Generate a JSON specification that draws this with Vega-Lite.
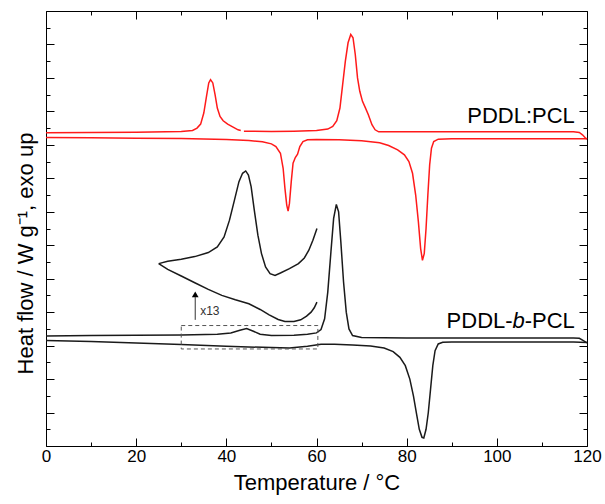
{
  "$schema": "https://vega.github.io/schema/vega-lite/v6.json",
  "autosize": {"type": "none"},
  "padding": {"left": 46, "top": 11, "right": 18, "bottom": 58},
  "width": 541,
  "height": 435,
  "background": "white",
  "config": {
    "view": {"stroke": "#000", "strokeWidth": 1},
    "axis": {"domain": false, "grid": false, "tickColor": "#000", "tickWidth": 1, "labelFont": "Liberation Sans", "titleFont": "Liberation Sans", "labelColor": "#000", "titleColor": "#000", "titleFontWeight": "normal"}
  },
  "datasets": {
    "curves": [
      {"s": "rc1", "T": 0, "v": 9.36}, {"s": "rc1", "T": 10, "v": 9.37}, {"s": "rc1", "T": 20, "v": 9.38}, {"s": "rc1", "T": 30, "v": 9.4}, {"s": "rc1", "T": 32.5, "v": 9.43}, {"s": "rc1", "T": 33.5, "v": 9.5}, {"s": "rc1", "T": 34.3, "v": 9.62}, {"s": "rc1", "T": 35.0, "v": 9.95}, {"s": "rc1", "T": 35.6, "v": 10.45}, {"s": "rc1", "T": 36.1, "v": 10.85}, {"s": "rc1", "T": 36.5, "v": 10.95}, {"s": "rc1", "T": 37.0, "v": 10.85}, {"s": "rc1", "T": 37.5, "v": 10.5}, {"s": "rc1", "T": 38.0, "v": 10.1}, {"s": "rc1", "T": 38.6, "v": 9.85}, {"s": "rc1", "T": 39.3, "v": 9.72}, {"s": "rc1", "T": 40.3, "v": 9.62}, {"s": "rc1", "T": 41.5, "v": 9.53}, {"s": "rc1", "T": 42.6, "v": 9.45}, {"s": "rc1", "T": 43.2, "v": 9.43},
      {"s": "rc2", "T": 43.9, "v": 9.41}, {"s": "rc2", "T": 50, "v": 9.4}, {"s": "rc2", "T": 55, "v": 9.41}, {"s": "rc2", "T": 60, "v": 9.43}, {"s": "rc2", "T": 62.5, "v": 9.47}, {"s": "rc2", "T": 63.6, "v": 9.55}, {"s": "rc2", "T": 64.5, "v": 9.72}, {"s": "rc2", "T": 65.2, "v": 10.1}, {"s": "rc2", "T": 65.8, "v": 10.8}, {"s": "rc2", "T": 66.4, "v": 11.5}, {"s": "rc2", "T": 67.0, "v": 12.05}, {"s": "rc2", "T": 67.6, "v": 12.3}, {"s": "rc2", "T": 68.1, "v": 12.2}, {"s": "rc2", "T": 68.6, "v": 11.7}, {"s": "rc2", "T": 69.1, "v": 11.0}, {"s": "rc2", "T": 69.6, "v": 10.6}, {"s": "rc2", "T": 70.2, "v": 10.3}, {"s": "rc2", "T": 70.8, "v": 10.12}, {"s": "rc2", "T": 71.5, "v": 9.9}, {"s": "rc2", "T": 72.3, "v": 9.6}, {"s": "rc2", "T": 73.0, "v": 9.45}, {"s": "rc2", "T": 73.8, "v": 9.39}, {"s": "rc2", "T": 80, "v": 9.39}, {"s": "rc2", "T": 100, "v": 9.39}, {"s": "rc2", "T": 117, "v": 9.39}, {"s": "rc2", "T": 118.3, "v": 9.37}, {"s": "rc2", "T": 119.0, "v": 9.3}, {"s": "rc2", "T": 119.7, "v": 9.2}, {"s": "rc2", "T": 120, "v": 9.17},
      {"s": "rh", "T": 0, "v": 9.22}, {"s": "rh", "T": 10, "v": 9.21}, {"s": "rh", "T": 20, "v": 9.2}, {"s": "rh", "T": 30, "v": 9.19}, {"s": "rh", "T": 40, "v": 9.16}, {"s": "rh", "T": 45, "v": 9.13}, {"s": "rh", "T": 48, "v": 9.09}, {"s": "rh", "T": 50, "v": 9.03}, {"s": "rh", "T": 51, "v": 8.95}, {"s": "rh", "T": 52, "v": 8.75}, {"s": "rh", "T": 52.6, "v": 8.3}, {"s": "rh", "T": 53.0, "v": 7.7}, {"s": "rh", "T": 53.4, "v": 7.2}, {"s": "rh", "T": 53.7, "v": 7.02}, {"s": "rh", "T": 54.0, "v": 7.25}, {"s": "rh", "T": 54.4, "v": 7.9}, {"s": "rh", "T": 54.8, "v": 8.45}, {"s": "rh", "T": 55.3, "v": 8.62}, {"s": "rh", "T": 55.8, "v": 8.72}, {"s": "rh", "T": 56.3, "v": 8.95}, {"s": "rh", "T": 57.0, "v": 9.1}, {"s": "rh", "T": 58, "v": 9.15}, {"s": "rh", "T": 60, "v": 9.16}, {"s": "rh", "T": 65, "v": 9.15}, {"s": "rh", "T": 70, "v": 9.12}, {"s": "rh", "T": 74, "v": 9.06}, {"s": "rh", "T": 76, "v": 8.98}, {"s": "rh", "T": 78, "v": 8.85}, {"s": "rh", "T": 79.5, "v": 8.7}, {"s": "rh", "T": 80.5, "v": 8.5}, {"s": "rh", "T": 81.3, "v": 8.15}, {"s": "rh", "T": 82.0, "v": 7.5}, {"s": "rh", "T": 82.6, "v": 6.7}, {"s": "rh", "T": 83.1, "v": 5.9}, {"s": "rh", "T": 83.5, "v": 5.55}, {"s": "rh", "T": 83.9, "v": 5.75}, {"s": "rh", "T": 84.3, "v": 6.5}, {"s": "rh", "T": 84.7, "v": 7.5}, {"s": "rh", "T": 85.1, "v": 8.4}, {"s": "rh", "T": 85.5, "v": 8.9}, {"s": "rh", "T": 86.0, "v": 9.1}, {"s": "rh", "T": 87.0, "v": 9.17}, {"s": "rh", "T": 90, "v": 9.18}, {"s": "rh", "T": 100, "v": 9.18}, {"s": "rh", "T": 110, "v": 9.18}, {"s": "rh", "T": 120, "v": 9.18},
      {"s": "bc", "T": 0, "v": 3.29}, {"s": "bc", "T": 10, "v": 3.3}, {"s": "bc", "T": 20, "v": 3.31}, {"s": "bc", "T": 30, "v": 3.32}, {"s": "bc", "T": 38, "v": 3.34}, {"s": "bc", "T": 41, "v": 3.38}, {"s": "bc", "T": 43, "v": 3.46}, {"s": "bc", "T": 44.5, "v": 3.51}, {"s": "bc", "T": 46, "v": 3.43}, {"s": "bc", "T": 47.5, "v": 3.34}, {"s": "bc", "T": 50, "v": 3.3}, {"s": "bc", "T": 55, "v": 3.31}, {"s": "bc", "T": 58, "v": 3.34}, {"s": "bc", "T": 60, "v": 3.38}, {"s": "bc", "T": 61, "v": 3.48}, {"s": "bc", "T": 61.8, "v": 3.8}, {"s": "bc", "T": 62.5, "v": 4.6}, {"s": "bc", "T": 63.2, "v": 5.8}, {"s": "bc", "T": 63.8, "v": 6.8}, {"s": "bc", "T": 64.4, "v": 7.22}, {"s": "bc", "T": 64.9, "v": 7.0}, {"s": "bc", "T": 65.4, "v": 6.1}, {"s": "bc", "T": 66.0, "v": 4.9}, {"s": "bc", "T": 66.6, "v": 4.0}, {"s": "bc", "T": 67.2, "v": 3.5}, {"s": "bc", "T": 68.0, "v": 3.3}, {"s": "bc", "T": 70, "v": 3.24}, {"s": "bc", "T": 80, "v": 3.23}, {"s": "bc", "T": 100, "v": 3.23}, {"s": "bc", "T": 117, "v": 3.23}, {"s": "bc", "T": 118.3, "v": 3.22}, {"s": "bc", "T": 119.2, "v": 3.15}, {"s": "bc", "T": 120, "v": 3.08},
      {"s": "bh", "T": 0, "v": 3.15}, {"s": "bh", "T": 10, "v": 3.12}, {"s": "bh", "T": 20, "v": 3.08}, {"s": "bh", "T": 30, "v": 3.03}, {"s": "bh", "T": 40, "v": 2.98}, {"s": "bh", "T": 50, "v": 2.94}, {"s": "bh", "T": 54, "v": 2.93}, {"s": "bh", "T": 58, "v": 2.98}, {"s": "bh", "T": 61, "v": 3.04}, {"s": "bh", "T": 64, "v": 3.04}, {"s": "bh", "T": 68, "v": 3.02}, {"s": "bh", "T": 72, "v": 2.99}, {"s": "bh", "T": 75, "v": 2.93}, {"s": "bh", "T": 77, "v": 2.82}, {"s": "bh", "T": 78.5, "v": 2.65}, {"s": "bh", "T": 79.7, "v": 2.4}, {"s": "bh", "T": 80.7, "v": 2.0}, {"s": "bh", "T": 81.5, "v": 1.5}, {"s": "bh", "T": 82.2, "v": 0.95}, {"s": "bh", "T": 82.8, "v": 0.5}, {"s": "bh", "T": 83.4, "v": 0.26}, {"s": "bh", "T": 83.8, "v": 0.24}, {"s": "bh", "T": 84.3, "v": 0.5}, {"s": "bh", "T": 84.8, "v": 1.0}, {"s": "bh", "T": 85.3, "v": 1.7}, {"s": "bh", "T": 85.8, "v": 2.4}, {"s": "bh", "T": 86.3, "v": 2.85}, {"s": "bh", "T": 87.0, "v": 3.05}, {"s": "bh", "T": 88, "v": 3.1}, {"s": "bh", "T": 90, "v": 3.11}, {"s": "bh", "T": 100, "v": 3.11}, {"s": "bh", "T": 110, "v": 3.11}, {"s": "bh", "T": 117, "v": 3.11}, {"s": "bh", "T": 120, "v": 3.09},
      {"s": "iu", "T": 25.0, "v": 5.45}, {"s": "iu", "T": 27, "v": 5.52}, {"s": "iu", "T": 30, "v": 5.58}, {"s": "iu", "T": 33, "v": 5.66}, {"s": "iu", "T": 36, "v": 5.78}, {"s": "iu", "T": 38, "v": 5.95}, {"s": "iu", "T": 39.5, "v": 6.25}, {"s": "iu", "T": 40.7, "v": 6.75}, {"s": "iu", "T": 41.8, "v": 7.35}, {"s": "iu", "T": 42.8, "v": 7.9}, {"s": "iu", "T": 43.6, "v": 8.15}, {"s": "iu", "T": 44.3, "v": 8.22}, {"s": "iu", "T": 44.9, "v": 8.1}, {"s": "iu", "T": 45.5, "v": 7.75}, {"s": "iu", "T": 46.2, "v": 7.05}, {"s": "iu", "T": 47.0, "v": 6.3}, {"s": "iu", "T": 47.8, "v": 5.75}, {"s": "iu", "T": 48.7, "v": 5.35}, {"s": "iu", "T": 49.7, "v": 5.15}, {"s": "iu", "T": 50.8, "v": 5.1}, {"s": "iu", "T": 52, "v": 5.17}, {"s": "iu", "T": 54, "v": 5.3}, {"s": "iu", "T": 56, "v": 5.45}, {"s": "iu", "T": 57.3, "v": 5.62}, {"s": "iu", "T": 58.3, "v": 5.85}, {"s": "iu", "T": 59.2, "v": 6.15}, {"s": "iu", "T": 60.1, "v": 6.5},
      {"s": "il", "T": 25.0, "v": 5.45}, {"s": "il", "T": 27, "v": 5.28}, {"s": "il", "T": 30, "v": 5.08}, {"s": "il", "T": 33, "v": 4.88}, {"s": "il", "T": 36, "v": 4.68}, {"s": "il", "T": 39, "v": 4.5}, {"s": "il", "T": 42, "v": 4.37}, {"s": "il", "T": 45, "v": 4.25}, {"s": "il", "T": 47.5, "v": 4.08}, {"s": "il", "T": 49.5, "v": 3.92}, {"s": "il", "T": 51.5, "v": 3.78}, {"s": "il", "T": 53, "v": 3.72}, {"s": "il", "T": 55, "v": 3.72}, {"s": "il", "T": 56.5, "v": 3.77}, {"s": "il", "T": 57.8, "v": 3.88}, {"s": "il", "T": 58.8, "v": 4.0}, {"s": "il", "T": 59.5, "v": 4.13}, {"s": "il", "T": 60.1, "v": 4.3}
    ],
    "box": [{"T1": 30, "T2": 60.3, "v1": 2.9, "v2": 3.6}],
    "arrow": [{"T": 33.1, "v1": 3.77, "v2": 4.45, "vh": 4.53}],
    "small": [{"T": 34.2, "v": 3.92, "label": "x13"}],
    "names": [
      {"T": 117.3, "v": 9.66, "label": "PDDL:PCL"},
      {"T": 117.3, "v": 3.53, "label": "-PCL"},
      {"T": 103.5, "v": 3.53, "label": "PDDL-"}
    ],
    "italic": [
      {"T": 106.2, "v": 3.53, "label": "b"}
    ]
  },
  "layer": [
    {
      "data": {"name": "curves"},
      "transform": [{"filter": "datum.s == 'rc1' || datum.s == 'rc2' || datum.s == 'rh'"}],
      "mark": {"type": "line", "color": "#ff1a1a", "strokeWidth": 1.5},
      "encoding": {
        "x": {"field": "T", "type": "quantitative", "scale": {"domain": [0, 120], "nice": false, "zero": false},
              "axis": {"orient": "bottom", "values": [0, 20, 40, 60, 80, 100, 120], "tickSize": -8, "labelFontSize": 17, "labelPadding": 10, "labelFlush": false, "title": "Temperature / °C", "titleFontSize": 22, "titlePadding": 8}},
        "y": {"field": "v", "type": "quantitative", "scale": {"domain": [0, 13], "nice": false, "zero": false},
              "axis": {"orient": "left", "values": [0,1,2,3,4,5,6,7,8,9,10,11,12,13], "tickSize": -8, "labels": false, "title": "Heat flow / W g⁻¹, exo up", "titleFontSize": 22, "titleAngle": -90, "titleX": -14, "titleY": 242, "titleBaseline": "alphabetic", "titleAlign": "center"}},
        "detail": {"field": "s"}
      }
    },
    {
      "data": {"name": "curves"},
      "transform": [{"filter": "datum.s == 'bc' || datum.s == 'bh' || datum.s == 'iu' || datum.s == 'il'"}],
      "mark": {"type": "line", "color": "#1a1a1a", "strokeWidth": 1.5},
      "encoding": {
        "x": {"field": "T", "type": "quantitative", "scale": {"domain": [0, 120], "nice": false, "zero": false},
              "axis": {"orient": "bottom", "values": [10, 30, 50, 70, 90, 110], "tickSize": -4, "labels": false, "title": null}},
        "y": {"field": "v", "type": "quantitative", "scale": {"domain": [0, 13], "nice": false, "zero": false},
              "axis": {"orient": "left", "values": [0.5,1.5,2.5,3.5,4.5,5.5,6.5,7.5,8.5,9.5,10.5,11.5,12.5], "tickSize": -4, "labels": false, "title": null}},
        "detail": {"field": "s"}
      }
    },
    {
      "data": {"name": "box"},
      "mark": {"type": "rect", "fill": null, "fillOpacity": 0, "stroke": "#555", "strokeWidth": 1, "strokeDash": [4, 3]},
      "encoding": {
        "x": {"field": "T1", "type": "quantitative", "scale": {"domain": [0, 120], "nice": false, "zero": false},
              "axis": {"orient": "top", "values": [0, 20, 40, 60, 80, 100, 120], "tickSize": -8, "labels": false, "title": null}},
        "x2": {"field": "T2"},
        "y": {"field": "v1", "type": "quantitative", "scale": {"domain": [0, 13], "nice": false, "zero": false},
              "axis": {"orient": "right", "values": [0,1,2,3,4,5,6,7,8,9,10,11,12,13], "tickSize": -8, "labels": false, "title": null}},
        "y2": {"field": "v2"}
      }
    },
    {
      "data": {"name": "arrow"},
      "mark": {"type": "rule", "color": "#333", "strokeWidth": 1},
      "encoding": {
        "x": {"field": "T", "type": "quantitative", "scale": {"domain": [0, 120], "nice": false, "zero": false},
              "axis": {"orient": "top", "values": [10, 30, 50, 70, 90, 110], "tickSize": -4, "labels": false, "title": null}},
        "y": {"field": "v1", "type": "quantitative", "scale": {"domain": [0, 13], "nice": false, "zero": false},
              "axis": {"orient": "right", "values": [0.5,1.5,2.5,3.5,4.5,5.5,6.5,7.5,8.5,9.5,10.5,11.5,12.5], "tickSize": -4, "labels": false, "title": null}},
        "y2": {"field": "v2"}
      }
    },
    {
      "data": {"name": "arrow"},
      "mark": {"type": "point", "shape": "triangle-up", "filled": true, "color": "#000", "size": 45, "opacity": 1},
      "encoding": {
        "x": {"field": "T", "type": "quantitative", "scale": {"domain": [0, 120], "nice": false, "zero": false}, "axis": null},
        "y": {"field": "vh", "type": "quantitative", "scale": {"domain": [0, 13], "nice": false, "zero": false}, "axis": null}
      }
    },
    {
      "data": {"name": "small"},
      "mark": {"type": "text", "align": "left", "baseline": "alphabetic", "font": "Liberation Sans", "fontSize": 12, "color": "#333"},
      "encoding": {
        "x": {"field": "T", "type": "quantitative", "scale": {"domain": [0, 120], "nice": false, "zero": false}, "axis": null},
        "y": {"field": "v", "type": "quantitative", "scale": {"domain": [0, 13], "nice": false, "zero": false}, "axis": null},
        "text": {"field": "label"}
      }
    },
    {
      "data": {"name": "names"},
      "mark": {"type": "text", "align": "right", "baseline": "alphabetic", "font": "Liberation Sans", "fontSize": 22, "color": "#000"},
      "encoding": {
        "x": {"field": "T", "type": "quantitative", "scale": {"domain": [0, 120], "nice": false, "zero": false}, "axis": null},
        "y": {"field": "v", "type": "quantitative", "scale": {"domain": [0, 13], "nice": false, "zero": false}, "axis": null},
        "text": {"field": "label"}
      }
    },
    {
      "data": {"name": "italic"},
      "mark": {"type": "text", "align": "right", "baseline": "alphabetic", "font": "Liberation Sans", "fontSize": 22, "fontStyle": "italic", "color": "#000"},
      "encoding": {
        "x": {"field": "T", "type": "quantitative", "scale": {"domain": [0, 120], "nice": false, "zero": false}, "axis": null},
        "y": {"field": "v", "type": "quantitative", "scale": {"domain": [0, 13], "nice": false, "zero": false}, "axis": null},
        "text": {"field": "label"}
      }
    }
  ],
  "resolve": {"axis": {"x": "independent", "y": "independent"}}
}
